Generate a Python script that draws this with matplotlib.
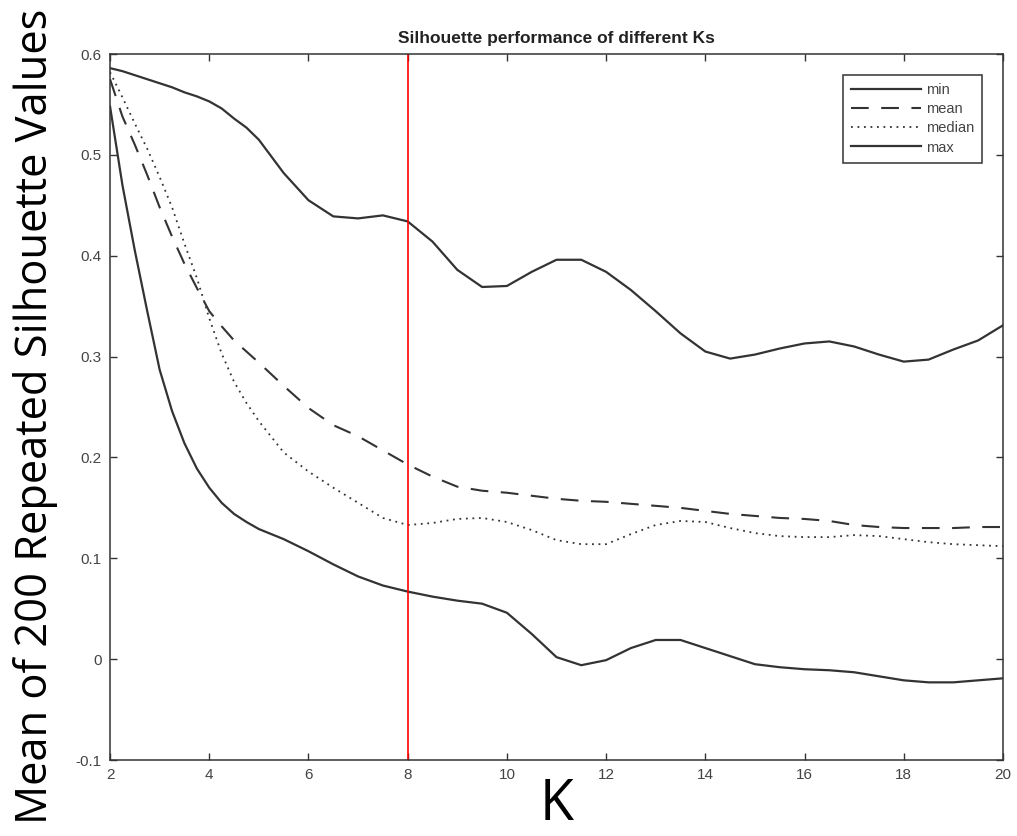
import numpy as np
import matplotlib.pyplot as plt

# Number of clusters tried (finer steps where the curves drop fast)
K = [2, 2.25, 2.5, 2.75, 3, 3.25, 3.5, 3.75, 4, 4.25, 4.5, 4.75,
     5, 5.5, 6, 6.5, 7, 7.5, 8, 8.5, 9, 9.5, 10, 10.5, 11, 11.5, 12, 12.5,
     13, 13.5, 14, 14.5, 15, 15.5, 16, 16.5, 17, 17.5, 18, 18.5, 19, 19.5, 20]

# Silhouette statistics over 200 repeated runs, per K
sil_min = [0.548, 0.470, 0.405, 0.345, 0.287, 0.246, 0.214, 0.189, 0.170, 0.155, 0.144, 0.136,
           0.129, 0.119, 0.107, 0.094, 0.082, 0.073, 0.067, 0.062, 0.058, 0.055, 0.046,
           0.025, 0.002, -0.006, -0.001, 0.011, 0.019, 0.019, 0.011, 0.003, -0.005,
           -0.008, -0.010, -0.011, -0.013, -0.017, -0.021, -0.023, -0.023, -0.021, -0.019]
sil_mean = [0.575, 0.538, 0.510, 0.480, 0.448, 0.419, 0.392, 0.368, 0.345, 0.330, 0.316, 0.305,
            0.294, 0.271, 0.249, 0.232, 0.221, 0.207, 0.193, 0.181, 0.171, 0.167, 0.165,
            0.162, 0.159, 0.157, 0.156, 0.154, 0.152, 0.150, 0.147, 0.144, 0.142,
            0.140, 0.139, 0.137, 0.133, 0.131, 0.130, 0.130, 0.130, 0.131, 0.131]
sil_median = [0.582, 0.557, 0.531, 0.506, 0.478, 0.448, 0.412, 0.378, 0.338, 0.303, 0.275, 0.254,
              0.236, 0.205, 0.186, 0.170, 0.155, 0.140, 0.133, 0.135, 0.139, 0.140, 0.136,
              0.128, 0.118, 0.114, 0.114, 0.124, 0.133, 0.137, 0.136, 0.130, 0.125,
              0.122, 0.121, 0.121, 0.123, 0.122, 0.119, 0.116, 0.114, 0.113, 0.112]
sil_max = [0.586, 0.583, 0.579, 0.575, 0.571, 0.567, 0.562, 0.558, 0.553, 0.546, 0.536, 0.527,
           0.515, 0.482, 0.455, 0.439, 0.437, 0.440, 0.434, 0.414, 0.386, 0.369, 0.370,
           0.384, 0.396, 0.396, 0.384, 0.366, 0.345, 0.323, 0.305, 0.298, 0.302,
           0.308, 0.313, 0.315, 0.310, 0.302, 0.295, 0.297, 0.307, 0.316, 0.331]

best_k = 8
xticks = np.arange(2, 21, 2)
yticks = np.round(np.arange(-0.1, 0.61, 0.1), 1)

plt.rcParams['font.family'] = ['Liberation Sans', 'DejaVu Sans']

fig = plt.figure(figsize=(10.17, 8.36), dpi=100)
ax = fig.add_axes([0.1082, 0.0909, 0.878, 0.8445])

line_col = '#333333'
ax.plot(K, sil_min, color=line_col, lw=1.6, label='min')
ax.plot(K, sil_mean, color=line_col, lw=1.5, linestyle=(0, (8.5, 6)), label='mean')
ax.plot(K, sil_median, color=line_col, lw=1.3, linestyle=(0, (1, 2.6)), label='median')
ax.plot(K, sil_max, color=line_col, lw=1.6, label='max')
ax.axvline(best_k, color='red', lw=1.2)

ax.set_xlim(2, 20)
ax.set_ylim(-0.1, 0.6)
ax.set_xticks(xticks)
ax.set_yticks(yticks)
ax.set_xticklabels([str(v) for v in xticks])
ax.set_yticklabels([f'{v:g}' for v in yticks])
ax.tick_params(direction='in', top=True, right=True, length=5, width=1,
               labelsize=11, labelcolor='#444444', color='#333333', pad=6)
for s in ax.spines.values():
    s.set_color('#333333')
    s.set_linewidth(1.1)

ax.set_title('Silhouette performance of different Ks', fontsize=12.5,
             fontweight='bold', color='#222222', pad=8)
ax.set_xlabel('K', fontsize=40, family=['Open Sans', 'DejaVu Sans'], labelpad=-4)
ax.set_ylabel('Mean of 200 Repeated Silhouette Values', fontsize=31.3,
              family=['Open Sans', 'DejaVu Sans'])
ax.yaxis.set_label_coords(-0.058, 0.487)

leg = ax.legend(loc='upper right', bbox_to_anchor=(0.9765, 0.970), borderaxespad=0,
                fontsize=10.5, handlelength=4.8, handletextpad=0.35, labelspacing=0.35,
                borderpad=0.55, fancybox=False, framealpha=1)
leg.get_frame().set_edgecolor('#333333')
leg.get_frame().set_linewidth(1.1)
for t in leg.get_texts():
    t.set_color('#444444')

fig.savefig('out.png', dpi=100)
